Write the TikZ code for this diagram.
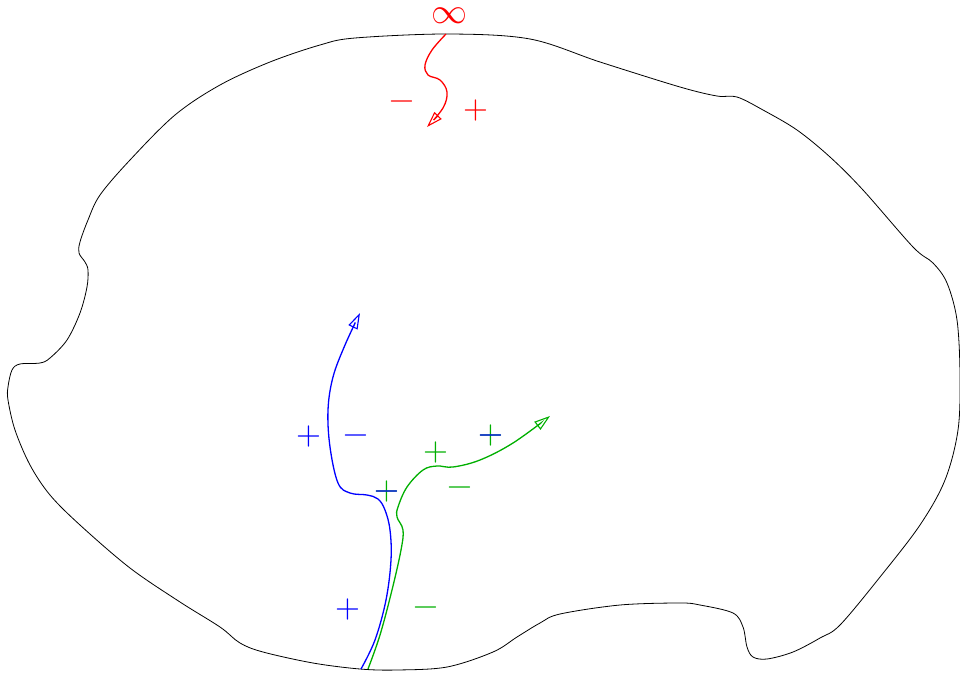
\documentclass[tikz,border=0pt]{standalone}
\usepackage{unicode-math}
\setmathfont{Latin Modern Math}
\usetikzlibrary{arrows.meta}
\definecolor{myred}{RGB}{255,0,0}
\definecolor{myblue}{RGB}{0,0,255}
\definecolor{mygreen}{RGB}{0,175,0}
\newcommand{\mns}{$\vphantom{+}-$}
\newcommand{\pls}{$+$}
\begin{document}
\begin{tikzpicture}[x=1pt,y=-1pt,
  outline/.style={black,line width=0.8pt},
  curve/.style={line width=1.3pt,-{Triangle[open,length=16pt,width=10pt,line width=1.1pt]}},
  sign/.style={inner sep=0pt,font=\fontsize{32}{36}\selectfont},
  inf/.style={inner sep=0pt,font=\fontsize{36}{40}\selectfont}]
\useasboundingbox (0,0) rectangle (960,672);
% outline
\draw[outline] plot[smooth cycle,tension=0.55] coordinates {
 (355,38) (448,34) (530,39) (600,62) (680,87) (717,96) (737,97) (763,110)
 (797,130) (830,157) (863,190) (913,247) (933,263) (947,283) (957,320)
 (960,375) (958,430) (945,480) (920,525) (880,577) (840,625) (820,638)
 (793,652) (767,659) (753,657) (747,647) (743,627) (733,613) (700,605)
 (680,603) (620,605) (560,614) (540,623) (517,637) (493,652) (447,667)
 (397,670) (360,669) (313,663) (263,652) (240,643) (220,627) (180,602)
 (130,568) (80,525) (50,495) (30,465) (15,430) (8,400) (8,387) (12,370)
 (20,364) (40,363) (50,358) (67,340) (80,313) (87,287) (88,270) (85,262)
 (79,253) (80,242) (88,220) (100,195) (130,160) (175,115) (220,85)
 (270,62) (320,45)};
% red
\node[inf,text=myred] (inf) at (449,16) {$\infty$};
\coordinate (rs) at (446,34);
\coordinate (re) at (427,127);
\draw[curve,myred] plot[smooth,tension=0.6] coordinates {(rs) (432,50) (425,65) (428,75) (440,80) (447,92) (443,108) (re)};
\node[sign,text=myred] (rm) at (402,101) {\mns};
\node[sign,text=myred] (rp) at (476,110) {\pls};
% blue
\coordinate (bs) at (361,669);
\coordinate (be) at (360,313);
\draw[curve,myblue] plot[smooth,tension=0.6] coordinates {(bs) (375,640) (386,600) (391,560) (390,530) (385,510) (378,499) (367,495) (350,493) (338,483) (330,447) (328,410) (333,377) (345,345) (be)};
% green
\coordinate (gs) at (368,669);
\coordinate (ge) at (550,416);
\draw[curve,mygreen] plot[smooth,tension=0.6] coordinates {(gs) (380,635) (392,590) (401,550) (403,530) (397,517) (398,507) (407,487) (423,470) (437,466) (453,467) (480,460) (513,443) (ge)};
% signs
\node[sign,text=myblue] (b1) at (309,436) {\pls};
\node[sign,text=myblue] (b2) at (356,435) {\mns};
\node[sign,text=mygreen] (g1) at (387,491) {\pls};
\node[sign,text=myblue] (b3) at (387,491) {\mns};
\node[sign,text=mygreen] (g2) at (436,452) {\pls};
\node[sign,text=mygreen] (g3) at (460,487) {\mns};
\node[sign,text=mygreen] (g4) at (491,435) {\pls};
\node[sign,text=myblue] (b4) at (491,435) {\mns};
\node[sign,text=myblue] (b5) at (348,609) {\pls};
\node[sign,text=mygreen] (g5) at (426,607) {\mns};
\end{tikzpicture}
\end{document}
